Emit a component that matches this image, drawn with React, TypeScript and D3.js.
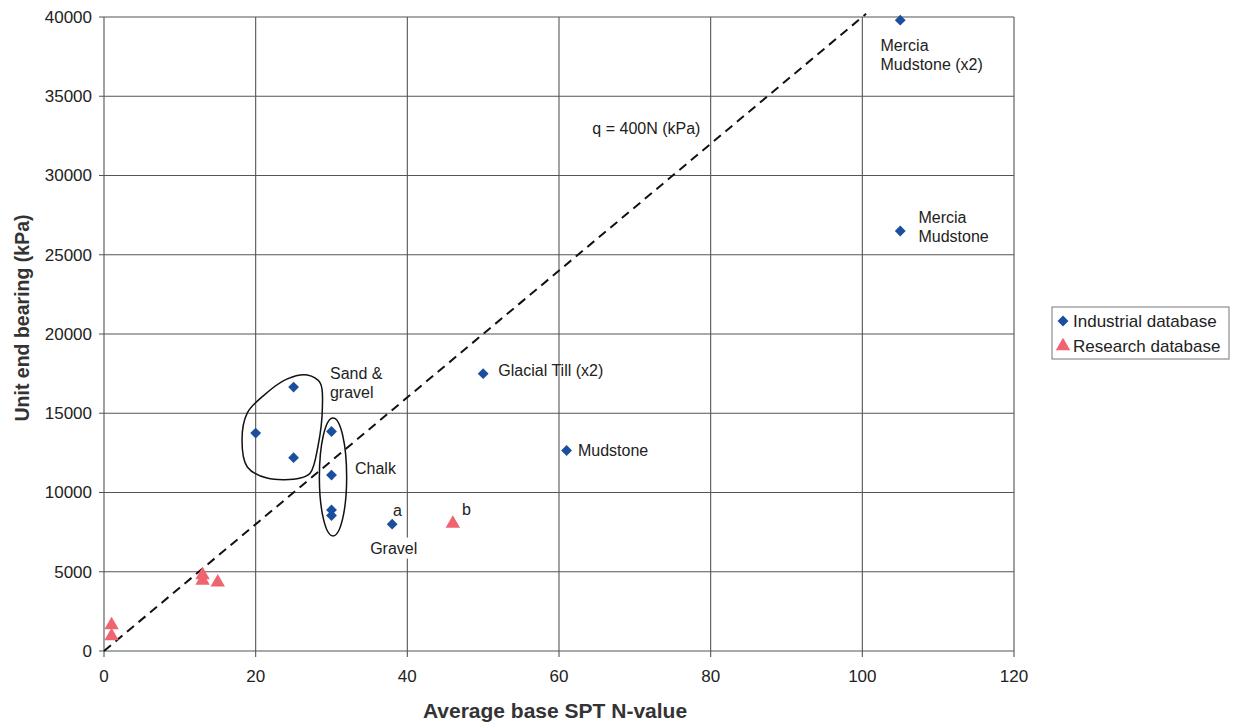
import React from "react";
import { useEffect, useRef } from "react";
import * as d3 from "d3";

// Industrial database (N-value, kPa)
const industrialN = [105, 105, 50, 61, 25, 20, 25, 30, 30, 30, 30, 38];
const industrialQ = [39800, 26500, 17500, 12650, 16650, 13750, 12200, 13850, 11100, 8900, 8550, 8000];

// Research database
const researchN = [46, 1, 1, 13, 13, 15];
const researchQ = [8100, 1700, 1000, 4850, 4500, 4400];

const xTicks = [0, 20, 40, 60, 80, 100, 120];
const yTicks = [0, 5000, 10000, 15000, 20000, 25000, 30000, 35000, 40000];

// q = 400N reference line
const lineN = [0, 100.5];
const lineFactor = 400;

// outline round the sand & gravel points (data coords)
const sandBlobN = [21.0, 24.1, 26.8, 28.5, 28.8, 28.2, 27.2, 25.9, 21.5, 18.9, 18.2, 18.9];
const sandBlobQ = [16100, 17150, 17410, 16910, 15390, 12870, 11230, 10910, 10910, 11610, 13310, 15020];

// chalk ellipse: centre and half-axes
const chalkEllipse = { n: 30.2, q: 10980, rn: 1.8, rq: 3720 };

const annotations = [
  { n: 102.4, q: 38230, lines: ["Mercia", "Mudstone (x2)"] },
  { n: 107.4, q: 27380, lines: ["Mercia", "Mudstone"] },
  { n: 52.0, q: 17730, lines: ["Glacial Till (x2)"] },
  { n: 62.5, q: 12680, lines: ["Mudstone"] },
  { n: 29.8, q: 17540, lines: ["Sand &", "gravel"] },
  { n: 33.1, q: 11550, lines: ["Chalk"] },
  { n: 38.1, q: 8900, lines: ["a"] },
  { n: 47.2, q: 8960, lines: ["b"] },
  { n: 35.1, q: 6500, lines: ["Gravel"], boxed: true },
  { n: 64.4, q: 33000, lines: ["q = 400N (kPa)"] },
];

const legendItems = ["Industrial database", "Research database"];

const BLUE = "#1b4f9e";
const RED = "#ef6470";
const FONT = "'Liberation Sans', Arial, Helvetica, sans-serif";

const App = () => {
  const svgRef = useRef<SVGSVGElement>(null);

  useEffect(() => {
    const width = 1236;
    const height = 727;
    const margin = { top: 17, left: 104, right: 222, bottom: 76 };

    const svg = d3.select(svgRef.current).attr("width", width).attr("height", height);
    svg.selectAll("*").remove();

    const x = d3.scaleLinear().domain([0, 120]).range([margin.left, width - margin.right]);
    const y = d3.scaleLinear().domain([0, 40000]).range([height - margin.bottom, margin.top]);

    svg.append("rect").attr("width", width).attr("height", height).attr("fill", "#fff");

    // grid
    svg.append("g")
      .selectAll("line")
      .data(xTicks)
      .join("line")
      .attr("x1", d => x(d)).attr("x2", d => x(d))
      .attr("y1", y(40000)).attr("y2", y(0) + 6)
      .attr("stroke", "#555").attr("stroke-width", 1.1);
    svg.append("g")
      .selectAll("line")
      .data(yTicks)
      .join("line")
      .attr("x1", x(0) - 5).attr("x2", x(120))
      .attr("y1", d => y(d)).attr("y2", d => y(d))
      .attr("stroke", "#555").attr("stroke-width", 1.1);

    // tick labels
    svg.append("g")
      .selectAll("text")
      .data(yTicks)
      .join("text")
      .attr("x", x(0) - 12).attr("y", d => y(d))
      .attr("dy", "0.35em")
      .attr("text-anchor", "end")
      .attr("font-family", FONT).attr("font-size", 17).attr("fill", "#222")
      .text(d => d);
    svg.append("g")
      .selectAll("text")
      .data(xTicks)
      .join("text")
      .attr("x", d => x(d)).attr("y", y(0) + 31)
      .attr("text-anchor", "middle")
      .attr("font-family", FONT).attr("font-size", 17).attr("fill", "#222")
      .text(d => d);

    // axis titles
    svg.append("text")
      .attr("x", x(60) - 4).attr("y", 718)
      .attr("text-anchor", "middle")
      .attr("font-family", FONT).attr("font-size", 21).attr("font-weight", "bold").attr("fill", "#333")
      .text("Average base SPT N-value");
    svg.append("text")
      .attr("transform", `translate(29,318) rotate(-90)`)
      .attr("text-anchor", "middle")
      .attr("font-family", FONT).attr("font-size", 19.5).attr("font-weight", "bold").attr("fill", "#333")
      .text("Unit end bearing (kPa)");

    // outlines
    const blob = d3.line<number>()
      .x(i => x(sandBlobN[i]))
      .y(i => y(sandBlobQ[i]))
      .curve(d3.curveCatmullRomClosed.alpha(0.5));
    svg.append("path")
      .attr("d", blob(d3.range(sandBlobN.length)))
      .attr("fill", "none").attr("stroke", "#111").attr("stroke-width", 1.5);
    svg.append("ellipse")
      .attr("cx", x(chalkEllipse.n)).attr("cy", y(chalkEllipse.q))
      .attr("rx", x(chalkEllipse.rn) - x(0))
      .attr("ry", y(0) - y(chalkEllipse.rq))
      .attr("fill", "none").attr("stroke", "#111").attr("stroke-width", 1.5);

    // q = 400N
    svg.append("line")
      .attr("x1", x(lineN[0])).attr("y1", y(lineN[0] * lineFactor))
      .attr("x2", x(lineN[1])).attr("y2", y(lineN[1] * lineFactor))
      .attr("stroke", "#111").attr("stroke-width", 2)
      .attr("stroke-dasharray", "9,6");

    // annotations
    annotations.forEach(a => {
      const g = svg.append("g");
      const t = g.append("text")
        .attr("x", x(a.n)).attr("y", y(a.q))
        .attr("font-family", FONT).attr("font-size", 16).attr("fill", "#222");
      a.lines.forEach((l, i) => {
        t.append("tspan").attr("x", x(a.n)).attr("dy", i === 0 ? "0.35em" : 19).text(l);
      });
      if (a.boxed) {
        const bb = (t.node() as SVGTextElement).getBBox();
        g.insert("rect", "text")
          .attr("x", bb.x - 2).attr("y", bb.y - 2)
          .attr("width", bb.width + 4).attr("height", bb.height + 4)
          .attr("fill", "#fff");
      }
    });

    // points
    const diamond = d3.symbol().type(d3.symbolDiamond2).size(75);
    const triangle = d3.symbol().type(d3.symbolTriangle).size(90);

    svg.append("g")
      .selectAll("path")
      .data(d3.range(industrialN.length))
      .join("path")
      .attr("transform", i => `translate(${x(industrialN[i])},${y(industrialQ[i])})`)
      .attr("d", diamond)
      .attr("fill", BLUE);
    svg.append("g")
      .selectAll("path")
      .data(d3.range(researchN.length))
      .join("path")
      .attr("transform", i => `translate(${x(researchN[i])},${y(researchQ[i]) + 1})`)
      .attr("d", triangle)
      .attr("fill", RED);

    // legend
    const lg = svg.append("g").attr("transform", "translate(1052,307)");
    lg.append("rect")
      .attr("width", 177).attr("height", 52)
      .attr("fill", "#fff").attr("stroke", "#777").attr("stroke-width", 1);
    legendItems.forEach((name, i) => {
      const cy = 14 + i * 25;
      lg.append("path")
        .attr("transform", `translate(11,${cy})`)
        .attr("d", i === 0 ? diamond : triangle)
        .attr("fill", i === 0 ? BLUE : RED);
      lg.append("text")
        .attr("x", 21).attr("y", cy).attr("dy", "0.35em")
        .attr("font-family", FONT).attr("font-size", 17).attr("fill", "#222")
        .text(name);
    });
  }, []);

  return (
    <div style={{ position: "fixed", left: 0, top: 0 }}>
      <svg ref={svgRef} style={{ display: "block" }} />
    </div>
  );
};

export default App;
